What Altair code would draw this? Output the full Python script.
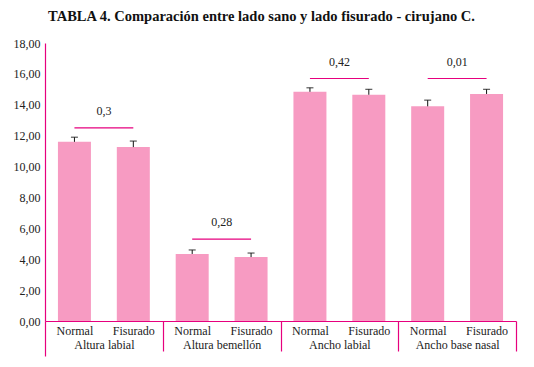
import altair as alt
import pandas as pd

groups = ["Altura labial", "Altura bemellón", "Ancho labial", "Ancho base nasal"]
sides = ["Normal", "Fisurado"]
normal_vals = [11.6, 4.34, 14.84, 13.9]
fisurado_vals = [11.26, 4.14, 14.65, 14.7]
normal_err = [0.3, 0.26, 0.26, 0.4]
fisurado_err = [0.39, 0.26, 0.35, 0.3]
p_values = ["0,3", "0,28", "0,42", "0,01"]
p_line_y = [12.5, 5.3, 15.7, 15.7]

PINK = "#f79bc2"
MAGENTA = "#e6007e"
FONT = "Liberation Serif"

rows = []
for gi, g in enumerate(groups):
    for si, (s, vals, errs) in enumerate(zip(sides, [normal_vals, fisurado_vals], [normal_err, fisurado_err])):
        rows.append({"group": g, "side": s, "pos": gi * 2 + si + 0.5,
                     "value": vals[gi], "top": vals[gi] + errs[gi]})
df = pd.DataFrame(rows)

sig = pd.DataFrame({
    "x1": [gi * 2 + 0.5 for gi in range(len(groups))],
    "x2": [gi * 2 + 1.5 for gi in range(len(groups))],
    "xm": [gi * 2 + 1.0 for gi in range(len(groups))],
    "y": p_line_y,
    "ty": [v + 1.1 for v in p_line_y],
    "label": p_values,
})

xscale = alt.Scale(domain=[0, 8], nice=False, zero=False, padding=0)
yscale = alt.Scale(domain=[0, 18], nice=False, padding=0)

group_expr = "[" + ",".join("'" + g + "'" for g in groups) + "][floor(datum.value/2)]"


def yaxis():
    return alt.Axis(values=list(range(0, 19, 2)),
                    labelExpr="replace(format(datum.value, '.2f'), '.', ',')",
                    title=None, grid=False, ticks=False, domainColor=MAGENTA, domainWidth=1.2,
                    labelFont=FONT, labelFontSize=12, labelColor="#222", labelPadding=5)


bars = alt.Chart(df).mark_bar(color=PINK, size=33).encode(
    x=alt.X("pos:Q", scale=xscale,
            axis=alt.Axis(values=[v + 0.5 for v in range(8)],
                          labelExpr="datum.value % 2 < 1 ? 'Normal' : 'Fisurado'",
                          title=None, grid=False, ticks=False, domainColor=MAGENTA, domainWidth=1.2,
                          labelFont=FONT, labelFontSize=12, labelColor="#222", labelPadding=4,
                          labelOverlap=False, labelFlush=False, orient="bottom")),
    y=alt.Y("value:Q", scale=yscale, axis=yaxis()),
)

group_axis = alt.Chart(df).mark_point(opacity=0).encode(
    x=alt.X("pos:Q", scale=xscale,
            axis=alt.Axis(values=[1, 3, 5, 7], labelExpr=group_expr, title=None, grid=False,
                          ticks=False, domain=False, labelFont=FONT, labelFontSize=12,
                          labelColor="#222", labelPadding=18, labelOverlap=False,
                          labelFlush=False, orient="bottom")),
    y=alt.Y("value:Q", scale=yscale, axis=yaxis()),
)

sep_axis = alt.Chart(df).mark_point(opacity=0).encode(
    x=alt.X("pos:Q", scale=xscale,
            axis=alt.Axis(values=[2, 4, 6, 8], labels=False, title=None, grid=False,
                          ticks=True, tickSize=30, tickColor=MAGENTA, tickWidth=1.2,
                          domain=False, orient="bottom")),
    y=alt.Y("value:Q", scale=yscale, axis=yaxis()),
)

left_axis = alt.Chart(df).mark_point(opacity=0).encode(
    x=alt.X("pos:Q", scale=xscale,
            axis=alt.Axis(values=[0], labels=False, title=None, grid=False,
                          ticks=True, tickSize=35, tickColor=MAGENTA, tickWidth=1.2,
                          domain=False, orient="bottom")),
    y=alt.Y("value:Q", scale=yscale, axis=yaxis()),
)

err = alt.Chart(df).mark_rule(color="#111", strokeWidth=1).encode(
    x=alt.X("pos:Q", scale=xscale, axis=None),
    y=alt.Y("value:Q", scale=yscale, axis=yaxis()),
    y2="top:Q",
)
caps = alt.Chart(df).mark_tick(color="#111", orient="horizontal", size=7, thickness=1.2).encode(
    x=alt.X("pos:Q", scale=xscale, axis=None),
    y=alt.Y("top:Q", scale=yscale, axis=yaxis()),
)

sig_lines = alt.Chart(sig).mark_rule(color=MAGENTA, strokeWidth=1.2).encode(
    x=alt.X("x1:Q", scale=xscale, axis=None),
    x2="x2:Q",
    y=alt.Y("y:Q", scale=yscale, axis=yaxis()),
)
sig_text = alt.Chart(sig).mark_text(font=FONT, fontSize=12, color="#222").encode(
    x=alt.X("xm:Q", scale=xscale, axis=None),
    y=alt.Y("ty:Q", scale=yscale, axis=yaxis()),
    text="label:N",
)

chart = alt.layer(bars, group_axis, sep_axis, left_axis, err, caps, sig_lines, sig_text).resolve_axis(
    x="independent"
).properties(
    width=471, height=278,
    padding={"left": 5, "top": 0, "right": 5, "bottom": 5},
    title=alt.TitleParams("TABLA 4. Comparación entre lado sano y lado fisurado - cirujano C.",
                          font=FONT, fontSize=14.5, fontWeight="bold", color="#111",
                          anchor="middle", offset=13, dx=-19),
).configure(background="white", font=FONT).configure_view(stroke=None)

chart.save("out.html", embed_options={"renderer": "svg", "actions": False})
